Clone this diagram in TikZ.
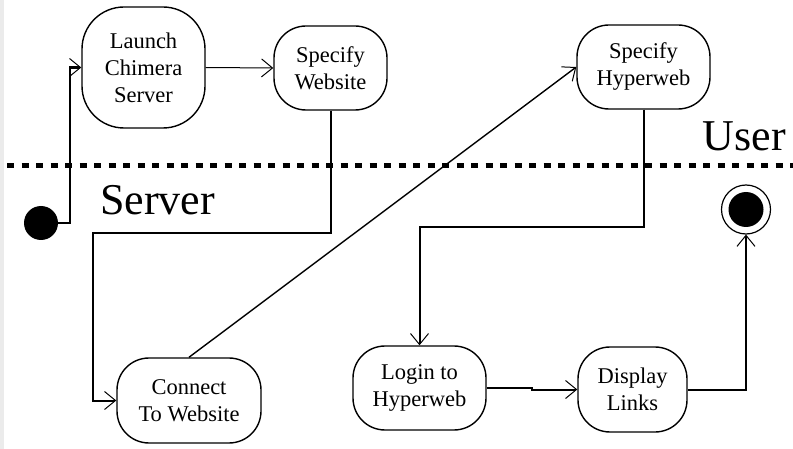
\documentclass[tikz,border=0pt]{standalone}
\usepackage{fontspec}
\setmainfont{Liberation Serif}
\usetikzlibrary{arrows.meta}
\begin{document}
\begin{tikzpicture}[x=1pt, y=-1pt,
  state/.style={draw, line width=1.4pt, rounded corners=32pt, align=center,
    inner sep=0pt, font=\fontsize{22.5}{27}\selectfont},
  conn/.style={line width=2pt, -{Straight Barb[length=11pt, width=18pt, line width=1pt]}},
  thinconn/.style={conn, line width=1pt},
  lane/.style={font=\fontsize{44}{48}\selectfont, inner sep=0pt}
]
\useasboundingbox (0,0) rectangle (793,449);
\fill[black!8] (0,0) rectangle (4,449);

% swimlane separator
\draw[line width=5.5pt, dash pattern=on 7pt off 7.5pt] (7,165.5) -- (793,165.5);
\node[lane, anchor=base west] (server) at (100,215) {Server};
\node[lane, anchor=base east] (user) at (786,151) {User};

% activity states
\node[state, minimum width=123pt, minimum height=121pt, rounded corners=42pt] (launch) at (143.5,67.5) {Launch\\Chimera\\Server};
\node[state, minimum width=113pt, minimum height=84pt] (website) at (330.5,68) {Specify\\Website};
\node[state, minimum width=133pt, minimum height=84pt] (hyperweb) at (643.5,67) {Specify\\Hyperweb};
\node[state, minimum width=144pt, minimum height=85pt] (connect) at (189,400.5) {Connect\\To Website};
\node[state, minimum width=133pt, minimum height=84pt] (login) at (419.5,388) {Login to\\Hyperweb};
\node[state, minimum width=109pt, minimum height=85pt] (display) at (632.5,389.5) {Display\\Links};

% initial and final states
\node[circle, fill=black, minimum size=34pt, inner sep=0pt] (start) at (41,223) {};
\node[circle, draw, line width=1.2pt, minimum size=49pt, inner sep=0pt] (finish) at (746,209.5) {};
\fill (finish.center) circle (17.5pt);

% transitions
\draw[conn, line width=2.5pt] (start.east) -- (70,223) |- (launch.west);
\draw[thinconn] (launch.east) -- (website.west);
\draw[conn] (website.south) |- (93,233) |- (connect.west);
\draw[conn, line width=1.4pt] (connect.north) -- (hyperweb.west);
\draw[conn] (hyperweb.south) |- (419.5,227) -- (login.north);
\draw[conn] (login.east) -- (532,388) |- (display.west);
\draw[conn] (display.east) -| (finish.south);
\end{tikzpicture}
\end{document}
